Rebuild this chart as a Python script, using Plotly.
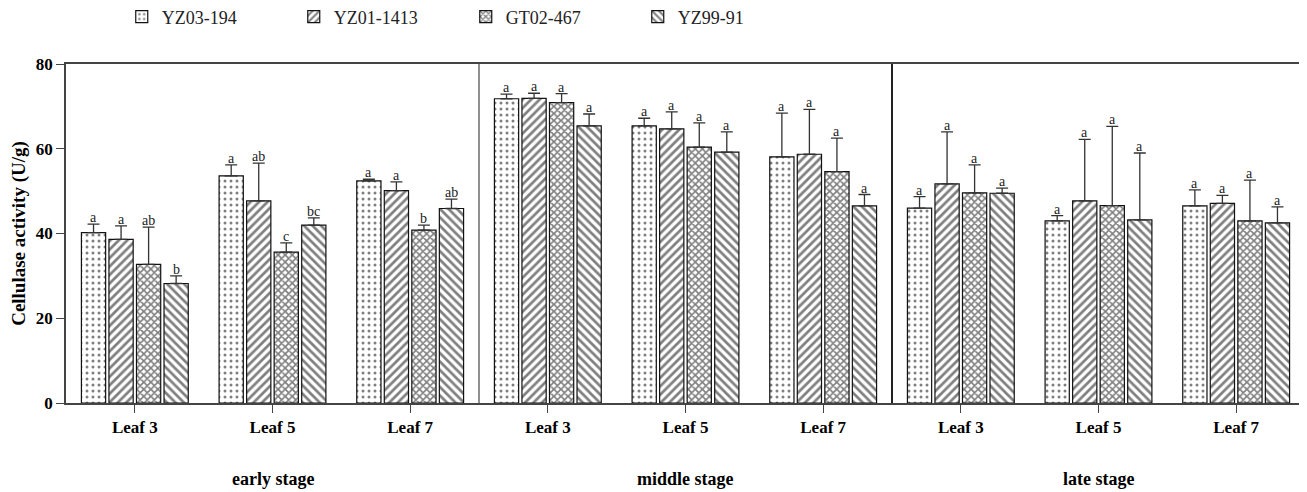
import plotly.graph_objects as go

# ---- data ----
leaves = ["Leaf 3", "Leaf 5", "Leaf 7"]
stages = ["early stage", "middle stage", "late stage"]
cultivars = ["YZ03-194", "YZ01-1413", "GT02-467", "YZ99-91"]

yz03_mean = [40.2, 53.6, 52.4, 71.8, 65.4, 58.1, 46.0, 43.0, 46.5]
yz03_err = [2.0, 2.6, 0.4, 1.1, 1.8, 10.3, 2.7, 1.2, 3.8]
yz03_sig = ["a", "a", "a", "a", "a", "a", "a", "a", "a"]

yz01_mean = [38.6, 47.7, 50.1, 71.9, 64.7, 58.7, 51.7, 47.7, 47.1]
yz01_err = [3.2, 8.9, 2.1, 1.2, 4.0, 10.6, 12.3, 14.5, 1.9]
yz01_sig = ["a", "ab", "a", "a", "a", "a", "a", "a", "a"]

gt02_mean = [32.7, 35.6, 40.8, 70.9, 60.4, 54.6, 49.6, 46.6, 43.0]
gt02_err = [8.8, 2.2, 1.2, 2.1, 5.7, 7.9, 6.6, 18.7, 9.6]
gt02_sig = ["ab", "c", "b", "a", "a", "a", "a", "a", "a"]

yz99_mean = [28.2, 42.0, 45.9, 65.4, 59.2, 46.5, 49.5, 43.2, 42.5]
yz99_err = [1.8, 1.7, 2.2, 2.8, 4.8, 2.7, 1.2, 15.8, 3.8]
yz99_sig = ["b", "bc", "ab", "a", "a", "a", "a", "a", "a"]

y_ticks = [0, 20, 40, 60, 80]

# ---- figure ----
SERIF = "Liberation Serif, Times New Roman, serif"
n = len(stages) * len(leaves)
xpos = list(range(n))
ticktext = leaves * len(stages)

means = [yz03_mean, yz01_mean, gt02_mean, yz99_mean]
errs = [yz03_err, yz01_err, gt02_err, yz99_err]
sigs = [yz03_sig, yz01_sig, gt02_sig, yz99_sig]
patterns = [
    dict(shape=".", size=6, solidity=0.2),
    dict(shape="/", size=6, solidity=0.45),
    dict(shape="x", size=5, solidity=0.55),
    dict(shape="\\", size=6, solidity=0.45),
]

fig = go.Figure()
for name, m, e, p in zip(cultivars, means, errs, patterns):
    fig.add_trace(go.Bar(
        x=xpos, y=m, name=name,
        marker=dict(color="white", line=dict(color="#111", width=1.2),
                    pattern=dict(fgcolor="#000", bgcolor="white", **p)),
        error_y=dict(type="data", symmetric=False, array=e,
                     arrayminus=[0] * n, color="#333", thickness=1.3, width=6),
    ))

bargap = 0.2
slot = (1 - bargap) / len(cultivars)
annotations = []
for k, (m, e, s) in enumerate(zip(means, errs, sigs)):
    off = -(1 - bargap) / 2 + slot * (k + 0.5)
    for i in range(n):
        annotations.append(dict(
            x=xpos[i] + off, y=m[i] + e[i], xref="x", yref="y",
            text=s[i], showarrow=False, yanchor="bottom", yshift=-3,
            font=dict(family=SERIF, size=14, color="#222")))

for j, st in enumerate(stages):
    annotations.append(dict(
        x=j * len(leaves) + 1, y=0, xref="x", yref="paper", text=st,
        showarrow=False, yanchor="top", yshift=-64,
        font=dict(family=SERIF, size=18, color="black", weight="bold")))

shapes = [
    dict(type="line", x0=2.5, x1=2.5, y0=0, y1=1, xref="x", yref="paper",
         line=dict(color="#555", width=1.3)),
    dict(type="line", x0=5.5, x1=5.5, y0=0, y1=1, xref="x", yref="paper",
         line=dict(color="#222", width=2)),
]

# the page body adds an 8px offset; size the figure to compensate
fig.update_layout(
    width=1299, height=484,
    margin=dict(l=58, r=2, t=56, b=89, autoexpand=False),
    paper_bgcolor="white", plot_bgcolor="white",
    barmode="group", bargap=bargap, bargroupgap=0.12,
    showlegend=True,
    legend=dict(orientation="h", x=0.045, y=1.139, xanchor="left",
                yanchor="middle", font=dict(family=SERIF, size=18, color="#222"),
                entrywidth=127, entrywidthmode="pixels", traceorder="normal"),
    annotations=annotations, shapes=shapes,
    xaxis=dict(tickmode="array", tickvals=xpos, ticktext=ticktext,
               range=[-0.5, n - 0.5], showline=True, linecolor="#444",
               linewidth=1.5, mirror=True, ticks="outside", ticklen=8,
               tickcolor="#444", showgrid=False, zeroline=False, automargin=False,
               tickfont=dict(family=SERIF, size=17, color="black", weight="bold")),
    yaxis=dict(range=[0, 80], tickmode="array", tickvals=y_ticks,
               showline=True, linecolor="#444", linewidth=1.5, mirror=True,
               ticks="outside", ticklen=8, tickcolor="#444", showgrid=False,
               zeroline=False, automargin=False,
               tickfont=dict(family=SERIF, size=17, color="black", weight="bold"),
               title=dict(text="Cellulase activity (U/g)", standoff=10,
                          font=dict(family=SERIF, size=19, color="black",
                                    weight="bold"))),
)

fig.write_html("out.html")
